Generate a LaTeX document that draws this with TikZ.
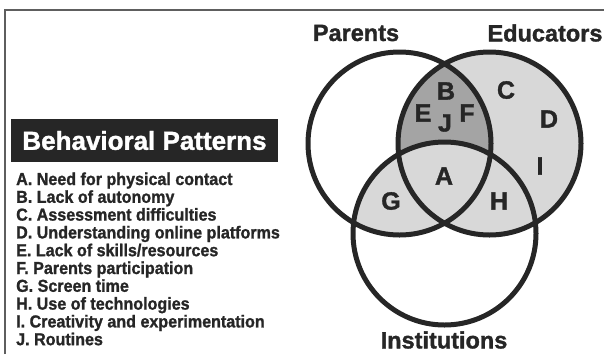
\documentclass[tikz,border=0pt]{standalone}
\usepackage{fontspec}
\setmainfont{Liberation Sans}
\newfontfamily\heavy{Liberation Sans}[UprightFont={* Bold},FakeBold=1.4]
\newfontfamily\heavynarrow{Liberation Sans}[UprightFont={* Bold},FakeBold=1.2,FakeStretch=0.93]

\usetikzlibrary{positioning}

\definecolor{setgray}{HTML}{D8D8D8}
\definecolor{overgray}{HTML}{A4A4A4}
\definecolor{ink}{HTML}{262626}
\definecolor{rulegray}{HTML}{5E5E5E}

\tikzset{
  setname/.style={font=\heavy\fontsize{23.5}{24}\selectfont, text=ink, inner sep=0pt},
  zone/.style={font=\heavy\fontsize{25}{25}\selectfont, text=ink, inner sep=0pt},
  item/.style={font=\heavynarrow\fontsize{17.3}{17}\selectfont, text=ink, inner sep=0pt, anchor=base west},
  ring/.style={draw=ink, line width=5pt},
}

\begin{document}
\begin{tikzpicture}[x=1pt,y=-1pt]
\useasboundingbox (0,0) rectangle (604,354);
\draw[rulegray, line width=2pt] (5,354) -- (5,9.5) -- (604,9.5);

% centres of the three sets
\coordinate (par) at (399.5,143.5);
\coordinate (edu) at (489.5,143.5);
\coordinate (ins) at (444.5,233.5);

% shaded regions
\fill[setgray] (edu) circle [radius=91.5];
\begin{scope}
  \clip (par) circle [radius=91.5];
  \fill[overgray] (edu) circle [radius=91.5];
  \fill[setgray] (ins) circle [radius=91.5];
\end{scope}
\draw[ring] (par) circle [radius=91.5];
\draw[ring] (edu) circle [radius=91.5];
\draw[ring] (ins) circle [radius=91.5];

\node[setname] (parents) at (356,33) {Parents};
\node[setname] (educators) at (545,33) {Educators};
\node[setname] (institutions) at (444,340) {Institutions};

% letters in the regions
\node[zone] (zB) at (446,91) {B};
\node[zone] (zE) at (423,113) {E};
\node[zone] (zJ) at (445,123) {J};
\node[zone] (zF) at (467,113) {F};
\node[zone] (zC) at (506,90) {C};
\node[zone] (zD) at (549,119) {D};
\node[zone] (zI) at (540,166) {I};
\node[zone] (zA) at (444,176) {A};
\node[zone] (zG) at (391,201) {G};
\node[zone] (zH) at (499,201) {H};

% key
\node[fill=ink, text=white, font=\heavy\fontsize{26}{26}\selectfont,
      minimum width=267pt, minimum height=43pt, inner sep=0pt] (title) at (144.5,140.5) {Behavioral Patterns};
\foreach \txt [count=\i from 0] in {{A. Need for physical contact},{B. Lack of autonomy},
    {C. Assessment difficulties},{D. Understanding online platforms},
    {E. Lack of skills/resources},{F. Parents participation},{G. Screen time},
    {H. Use of technologies},{I. Creativity and experimentation},{J. Routines}}
  \node[item] (item-\i) at (16,{185+17.8*\i}) {\txt};
\end{tikzpicture}
\end{document}
